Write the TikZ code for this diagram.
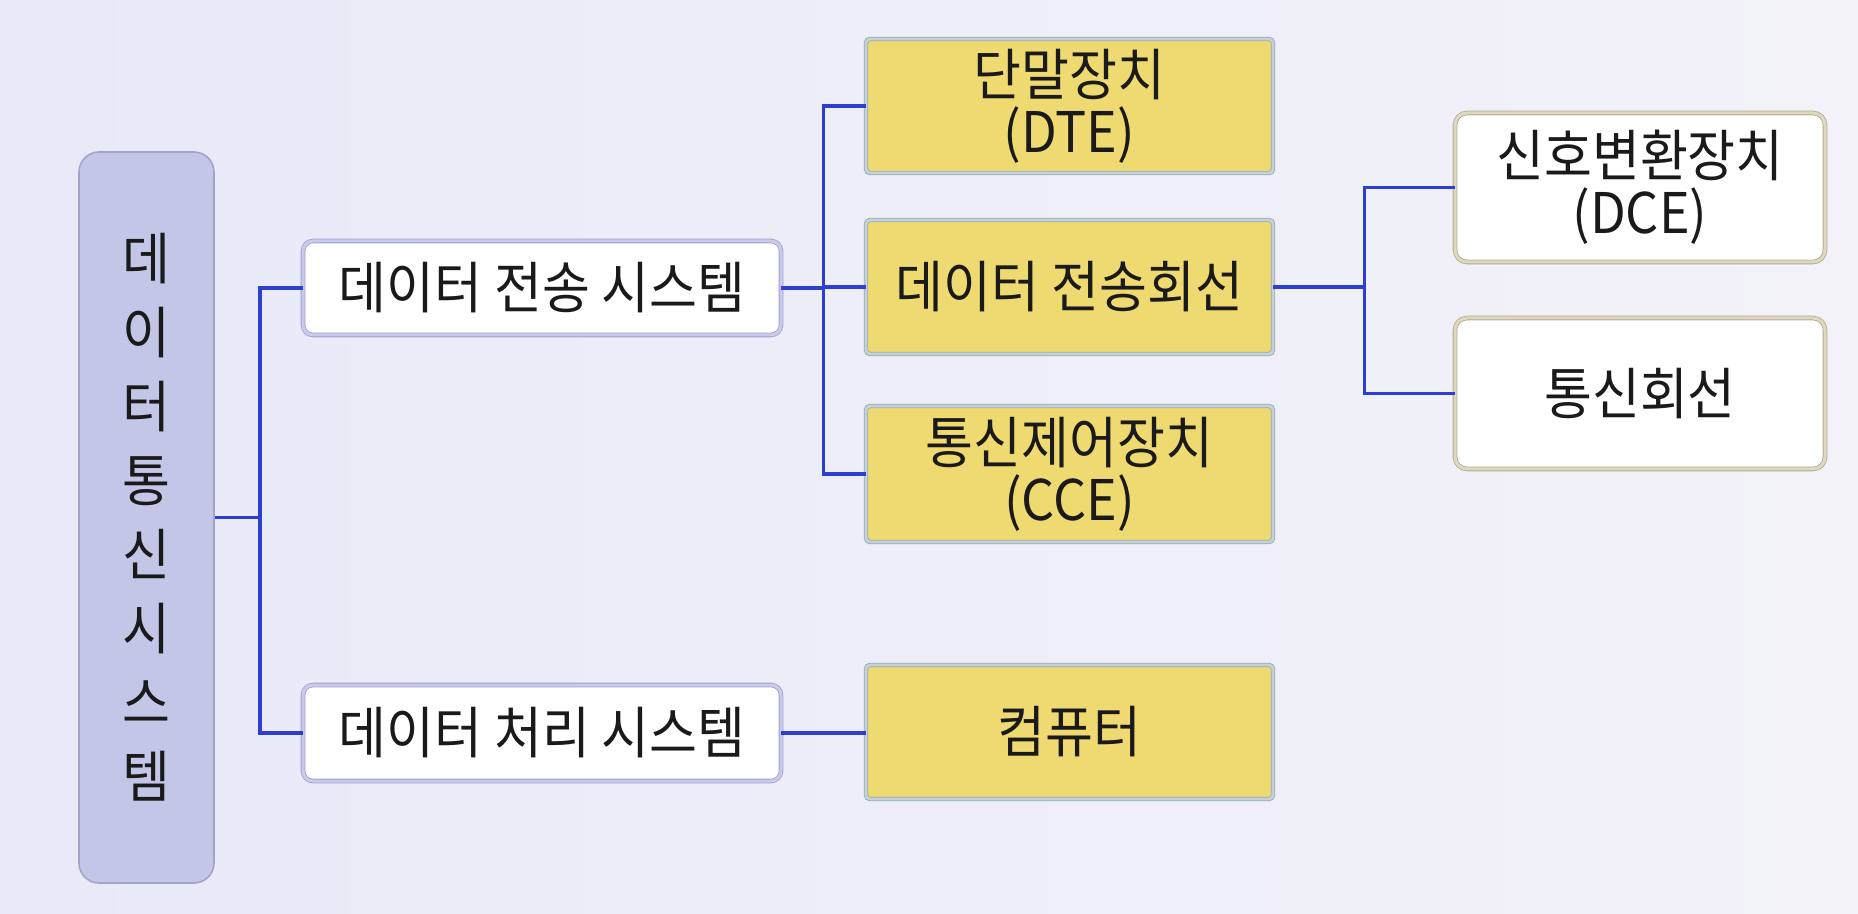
\documentclass[tikz,border=0pt]{standalone}
\usepackage{fontspec}
\usepackage{tikz}
\newfontfamily\krfont[FakeStretch=0.93]{Noto Sans CJK KR}
\definecolor{bgleft}{HTML}{E8EAF8}
\definecolor{bgright}{HTML}{F3F2F9}
\definecolor{rootfill}{HTML}{C4C6E8}
\definecolor{rootline}{HTML}{A2A4CC}
\definecolor{lavline}{HTML}{9EA0CE}
\definecolor{lavmid}{HTML}{C9CAEC}
\definecolor{goldfill}{HTML}{EFDA72}
\definecolor{goldline}{HTML}{95AAB4}
\definecolor{goldmid}{HTML}{C6D2D6}
\definecolor{sandline}{HTML}{B3AB8C}
\definecolor{sandmid}{HTML}{DED8C2}
\definecolor{linkblue}{HTML}{2E3ED2}
\definecolor{ink}{HTML}{1A1A1A}

\begin{document}
\begin{tikzpicture}[x=0.5pt, y=-0.5pt,
    every node/.style={font=\krfont\fontsize{28}{28.5}\selectfont, text=ink, align=center, inner sep=0pt},
    rootbox/.style={draw=rootline, line width=0.8pt, fill=rootfill, rounded corners=10pt},
    sysbox/.style={draw=lavline, double=lavmid, double distance=1.5pt, line width=0.4pt, fill=white, rounded corners=5pt},
    unitbox/.style={draw=goldline, double=goldmid, double distance=1.4pt, line width=0.4pt, fill=goldfill, rounded corners=2pt},
    partbox/.style={draw=sandline, double=sandmid, double distance=1.5pt, line width=0.4pt, fill=white, rounded corners=6pt},
    link/.style={draw=linkblue, line width=1.7pt}]
    \useasboundingbox (0,0) rectangle (1858,914);
    \fill [left color=bgleft, right color=bgright] (0,0) rectangle (1858,914);

    \node [rootbox, minimum width=67.5pt, minimum height=365.5pt,
      font=\krfont\fontsize{28}{37}\selectfont] (root) at (146.5,517.5)
      {데\\이\\터\\통\\신\\시\\스\\템};

    \node [sysbox, minimum width=239pt, minimum height=47pt] (trans) at (542,288) {데이터 전송 시스템};
    \node [sysbox, minimum width=239pt, minimum height=48pt] (proc) at (542,733) {데이터 처리 시스템};

    \node [unitbox, minimum width=203.5pt, minimum height=67pt] (dte) at (1069.5,106) {단말장치\\(DTE)};
    \node [unitbox, minimum width=203.5pt, minimum height=67pt] (tline) at (1069.5,287) {데이터 전송회선};
    \node [unitbox, minimum width=203.5pt, minimum height=68pt] (cce) at (1069.5,474) {통신제어장치\\(CCE)};
    \node [unitbox, minimum width=203.5pt, minimum height=67pt] (comp) at (1069.5,732) {컴퓨터};

    \node [partbox, minimum width=185pt, minimum height=74.5pt] (dce) at (1640,187.5) {신호변환장치\\(DCE)};
    \node [partbox, minimum width=185pt, minimum height=75.5pt] (cline) at (1640,393.5) {통신회선};

    \draw [link] (root.east) -- ++(45,0) |- (trans.west);
    \draw [link] (root.east) -- ++(45,0) |- (proc.west);

    \draw [link] (trans.east) -- ++(42,0) |- (dte.west);
    \draw [link] (trans.east) -- ++(42,0) |- (tline.west);
    \draw [link] (trans.east) -- ++(42,0) |- (cce.west);

    \draw [link] (tline.east) -- ++(91,0) |- (dce.west);
    \draw [link] (tline.east) -- ++(91,0) |- (cline.west);

    \draw [link] (proc.east) -- (proc.east -| comp.west);
  \end{tikzpicture}
\end{document}
